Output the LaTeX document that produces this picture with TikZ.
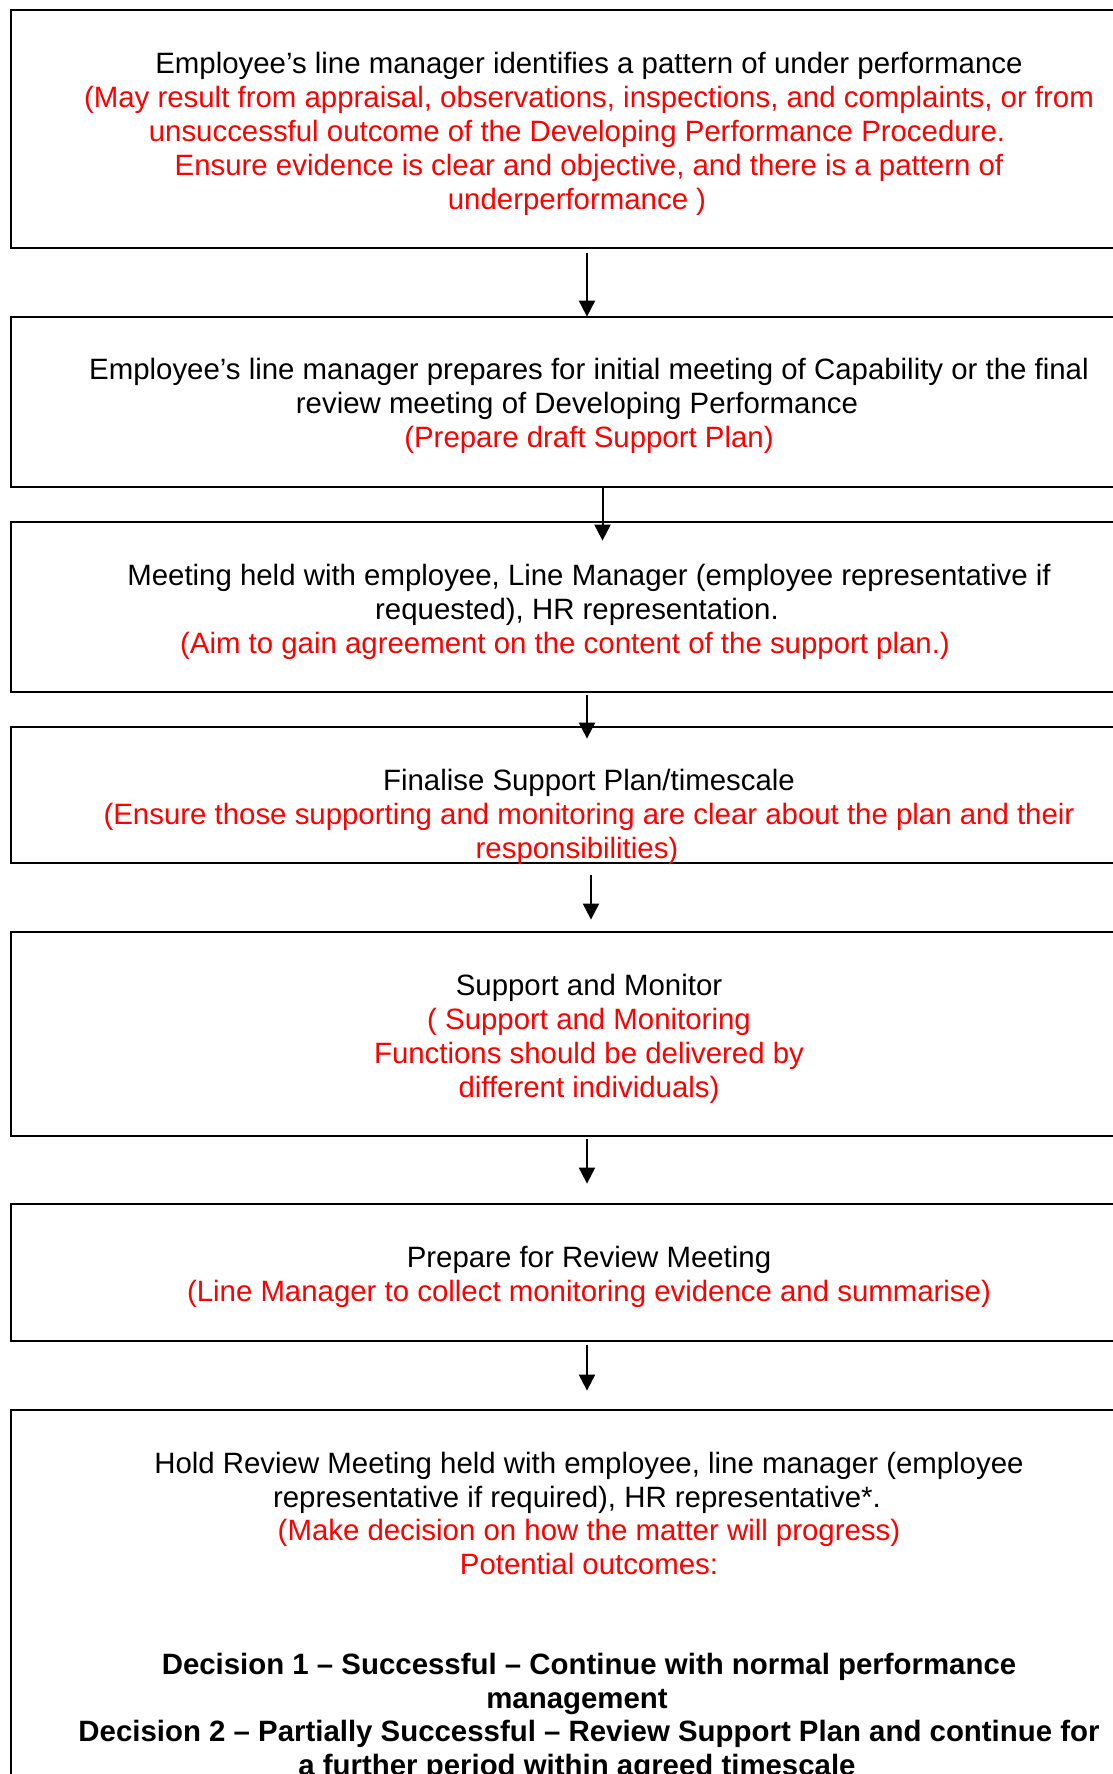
\documentclass[tikz,border=0pt]{standalone}
\usepackage{fontspec}
\setmainfont{Liberation Sans}
\usetikzlibrary{arrows.meta}
\newcommand\shl{\hspace*{12pt}\hbox{}}
\newcommand\rd[1]{\textcolor{red}{#1}}
\tikzset{
  box/.style={draw=black, line width=1.4pt, minimum width=578pt, inner sep=0pt},
  txt/.style={align=center, inner sep=0pt, font=\fontsize{14.7pt}{17pt}\selectfont},
  arr/.style={line width=1pt, -{Triangle[length=8pt,width=8pt]}}
}
\begin{document}
\begin{tikzpicture}[x=0.5pt,y=-0.5pt]
\useasboundingbox (0,0) rectangle (1113,1774);
\fill[white] (0,0) rectangle (1113,1774);
% boxes
\node[box, minimum height=119pt] (b1) at (589,129) {};
\node[box, minimum height=85pt] (b2) at (589,402) {};
\node[box, minimum height=85pt] (b3) at (589,607) {};
\node[box, minimum height=68pt] (b4) at (589,795) {};
\node[box, minimum height=102pt] (b5) at (589,1034) {};
\node[box, minimum height=68.5pt] (b6) at (589,1272.5) {};
\node[box, minimum height=245pt] (b7) at (589,1655) {};
% texts
\node[txt] (t1) at (589,134) {Employee’s line manager identifies a pattern of under performance\\
\rd{(May result from appraisal, observations, inspections, and complaints, or from}\\
\rd{unsuccessful outcome of the Developing Performance Procedure.}\shl\\
\rd{Ensure evidence is clear and objective, and there is a pattern of}\\
\rd{underperformance )}\shl};
\node[txt] (t2) at (589,406) {Employee’s line manager prepares for initial meeting of Capability or the final\\
review meeting of Developing Performance\shl\\
\rd{(Prepare draft Support Plan)}};
\node[txt] (t3) at (589,611.5) {Meeting held with employee, Line Manager (employee representative if\\
requested), HR representation.\shl\\
\rd{(Aim to gain agreement on the content of the support plan.)}\hspace*{24pt}\hbox{}};
\node[txt] (t4) at (589,816.5) {Finalise Support Plan/timescale\\
\rd{(Ensure those supporting and monitoring are clear about the plan and their}\\
\rd{responsibilities)}\shl};
\node[txt] (t5) at (589,1039) {Support and Monitor\\
\rd{( Support and Monitoring}\\
\rd{Functions should be delivered by}\\
\rd{different individuals)}};
\node[txt] (t6) at (589,1276.5) {Prepare for Review Meeting\\
\rd{(Line Manager to collect monitoring evidence and summarise)}};
\node[txt, font=\fontsize{14.7pt}{16.75pt}\selectfont] (t7) at (589,1617) {Hold Review Meeting held with employee, line manager (employee\\
representative if required), HR representative*.\shl\\
\rd{(Make decision on how the matter will progress)}\\
\rd{Potential outcomes:}\\
\mbox{}\\
\mbox{}\\
\textbf{Decision 1 – Successful – Continue with normal performance}\\
\textbf{management}\shl\\
\textbf{Decision 2 – Partially Successful – Review Support Plan and continue for}\\
\textbf{a further period within agreed timescale}\shl};
% arrows
\draw[arr] ([xshift=-1pt,yshift=-2pt]b1.south) -- ([xshift=-1pt,yshift=-0.5pt]b2.north);
\draw[arr] ([xshift=6.75pt,yshift=1pt]b2.south) -- ([xshift=6.75pt,yshift=-10pt]b3.north);
\draw[arr] ([xshift=-1pt,yshift=-1pt]b3.south) -- ([xshift=-1pt,yshift=-6.5pt]b4.north);
\draw[arr] ([xshift=1pt,yshift=-5.5pt]b4.south) -- ([xshift=1pt,yshift=5.5pt]b5.north);
\draw[arr] ([xshift=-1pt,yshift=-1pt]b5.south) -- ([xshift=-1pt,yshift=9.5pt]b6.north);
\draw[arr] ([xshift=-1pt,yshift=-1.5pt]b6.south) -- ([xshift=-1pt,yshift=9pt]b7.north);
\end{tikzpicture}
\end{document}
